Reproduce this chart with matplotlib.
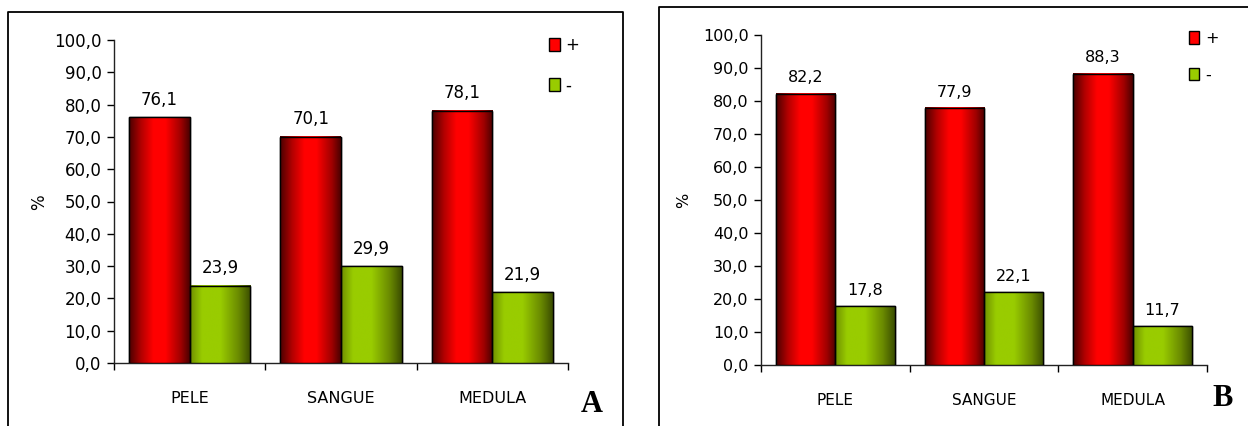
import numpy as np
import matplotlib
matplotlib.use("Agg")
import matplotlib.pyplot as plt
import matplotlib.ticker as mticker
from matplotlib.colors import LinearSegmentedColormap
from matplotlib.patches import Rectangle
from matplotlib.lines import Line2D

# ── dados ────────────────────────────────────────────────
categorias = ["PELE", "SANGUE", "MEDULA"]
pos_A = [76.1, 70.1, 78.1]
neg_A = [23.9, 29.9, 21.9]
pos_B = [82.2, 77.9, 88.3]
neg_B = [17.8, 22.1, 11.7]
series_labels = ["+", "-"]
y_ticks = np.arange(0, 101, 10)

W, H = 1248, 426
fig = plt.figure(figsize=(W / 100, H / 100), dpi=100)
fig.patch.set_facecolor("white")

# gradientes "cilindricos" estilo Excel
CMAP_RED = LinearSegmentedColormap.from_list(
    "red3d", [(0, "#4a0000"), (0.2, "#b30000"), (0.4, "#ff0000"),
              (0.6, "#ff0000"), (0.85, "#a00000"), (1, "#4a0000")])
CMAP_GRN = LinearSegmentedColormap.from_list(
    "grn3d", [(0, "#6f8f00"), (0.2, "#99cc00"), (0.5, "#99cc00"),
              (0.8, "#6a8a00"), (1, "#3a4d00")])
grad = np.linspace(0, 1, 256).reshape(1, -1)


def fmt(v):
    return f"{v:.1f}".replace(".", ",")


def painel(rect, pos, neg, fs, ylab_x, ylab_y, leg_xy, letra_xy, letra):
    ax = fig.add_axes(rect)
    x = np.arange(len(categorias))
    w = 0.4
    for vals, off, cmap, col in [(pos, -w / 2, CMAP_RED, "#ff0000"),
                                 (neg, w / 2, CMAP_GRN, "#99cc00")]:
        bars = ax.bar(x + off, vals, width=w, color=col,
                      edgecolor="black", linewidth=1.0, zorder=3)
        for b, v in zip(bars, vals):
            x0 = b.get_x()
            ax.imshow(grad, extent=[x0, x0 + b.get_width(), 0, b.get_height()],
                      aspect="auto", cmap=cmap, zorder=3.5)
            ax.add_patch(Rectangle((x0, 0), b.get_width(), b.get_height(),
                                   fill=False, edgecolor="black",
                                   linewidth=1.0, zorder=4))
            ax.annotate(fmt(v), (b.get_x() + b.get_width() / 2, v),
                        xytext=(0, 6), textcoords="offset points",
                        ha="center", va="bottom", fontsize=fs)

    ax.set_xlim(-0.5, 2.5)
    ax.set_ylim(0, 100)
    ax.set_yticks(y_ticks)
    ax.yaxis.set_major_formatter(mticker.FuncFormatter(lambda v, _: fmt(v)))
    ax.set_xticks([-0.5, 0.5, 1.5, 2.5])
    ax.set_xticklabels([])
    ax.set_xticks(x, minor=True)
    ax.set_xticklabels(categorias, minor=True)
    ax.tick_params(axis="x", which="major", length=5, width=1, direction="out")
    ax.tick_params(axis="x", which="minor", length=0, pad=20, labelsize=fs - 0.5)
    ax.tick_params(axis="y", length=5, width=1, direction="out", pad=4,
                   labelsize=fs)
    for s in ["top", "right"]:
        ax.spines[s].set_visible(False)
    for s in ["left", "bottom"]:
        ax.spines[s].set_color("#222222")
        ax.spines[s].set_linewidth(1.0)

    fig.text(ylab_x / W, 1 - ylab_y / H, "%", rotation=90, fontsize=fs,
             ha="center", va="center")

    # legenda
    handles = [Rectangle((0, 0), 1, 1, facecolor="#ff0000", edgecolor="black", lw=1),
               Rectangle((0, 0), 1, 1, facecolor="#99cc00", edgecolor="black", lw=1)]
    fig.legend(handles, series_labels, loc="upper left",
               bbox_to_anchor=(leg_xy[0] / W, 1 - leg_xy[1] / H),
               frameon=False, fontsize=fs, handlelength=0.65,
               handleheight=0.8, handletextpad=0.35, labelspacing=1.35,
               borderaxespad=0, borderpad=0)

    fig.text(letra_xy[0] / W, 1 - letra_xy[1] / H, letra,
             fontfamily="Liberation Serif", fontweight="bold", fontsize=22,
             ha="center", va="center")
    return ax


painel([114 / W, 1 - 363 / H, 454 / W, 323 / H], pos_A, neg_A, 12,
       39, 202, (549, 36), (592, 405), "A")
painel([761 / W, 1 - 365 / H, 446 / W, 330 / H], pos_B, neg_B, 11.5,
       684, 200, (1189, 31), (1223, 399), "B")

# molduras dos paineis
for xs, ys in [([8, 8, 623, 623], [H + 5, 12, 12, H + 5]),
               ([659, 659, W + 5], [H + 5, 7, 7])]:
    fig.add_artist(Line2D([v / W for v in xs], [1 - v / H for v in ys],
                          color="black", lw=1.3, transform=fig.transFigure))

fig.savefig("out.png", dpi=100)
plt.close(fig)
